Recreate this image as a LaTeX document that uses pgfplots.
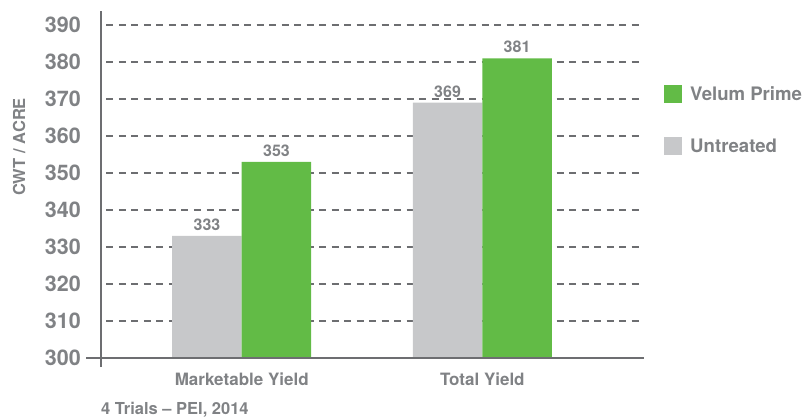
\documentclass[border=0pt]{standalone}
\usepackage{pgfplots}
\pgfplotsset{compat=1.18}
\usepackage{fontspec}
\setmainfont{TeX Gyre Heros}
\definecolor{txtgray}{HTML}{808285}
\definecolor{linegray}{HTML}{6D6E71}
\definecolor{bargray}{HTML}{C7C8CA}
\definecolor{bargreen}{HTML}{62BB46}
\begin{document}
\begin{tikzpicture}
\begin{axis}[
  scale only axis,
  width=543pt, height=347pt,
  ymin=300, ymax=393.78,
  xmin=-0.585, xmax=1.672,
  ybar=0pt, bar width=69.5pt,
  xtick=data, xticklabels={Marketable Yield, Total Yield},
  ytick={300,310,...,390},
  axis x line=bottom, axis y line=left,
  axis line style={draw=none},
  major tick length=0pt,
  ymajorgrids,
  grid style={linegray, line width=1.3pt, dash pattern=on 7pt off 5.5pt, dash phase=7pt},
  /pgf/number format/assume math mode=true,
  yticklabel style={font=\fontsize{21.5}{24}\selectfont\bfseries, text=txtgray, anchor=east, inner sep=0pt, xshift=-20pt},
  xticklabel style={font=\fontsize{17}{20}\selectfont\bfseries, text=txtgray, anchor=north, inner sep=0pt, yshift=-15pt},
  ylabel={CWT / ACRE},
  ylabel style={at={(axis description cs:-0.151,0.608)}, anchor=center, font=\fontsize{16.5}{19}\selectfont\bfseries, text=txtgray},
  nodes near coords,
  nodes near coords style={font=\fontsize{16}{19}\selectfont\bfseries, text=txtgray, anchor=south, inner sep=0pt, yshift=5pt},
  every node near coord/.append style={/pgf/number format/assume math mode=true},
  legend image code/.code={\fill[#1,draw=none] (0pt,-9pt) rectangle (18pt,9pt);},
  reverse legend,
  legend cell align=left,
  legend style={at={(axis description cs:1.0368,0.7896)}, anchor=north west, draw=none, fill=none, inner sep=0pt,
    row sep=33pt, column sep=6pt, font=\fontsize{18.6}{22}\selectfont\bfseries, text=txtgray},
]
\addplot[fill=bargray, draw=none] coordinates {(0,333) (1,369)};
\addplot[fill=bargreen, draw=none] coordinates {(0,353) (1,381)};
\legend{Untreated, Velum Prime}
\end{axis}
\draw[linegray, line width=1.5pt] (-15pt,0pt) -- (543pt,0pt);
\draw[linegray, line width=1.5pt] (0pt,-9pt) -- (0pt,347pt);
\node[anchor=base west, inner sep=0pt, text=txtgray, font=\fontsize{16.5}{19}\selectfont\bfseries] at (0pt,-56.5pt) {4 Trials – PEI, 2014};
\pgfresetboundingbox
\path[use as bounding box] (-101pt,-60pt) rectangle (707pt,358pt);
\end{tikzpicture}
\end{document}
